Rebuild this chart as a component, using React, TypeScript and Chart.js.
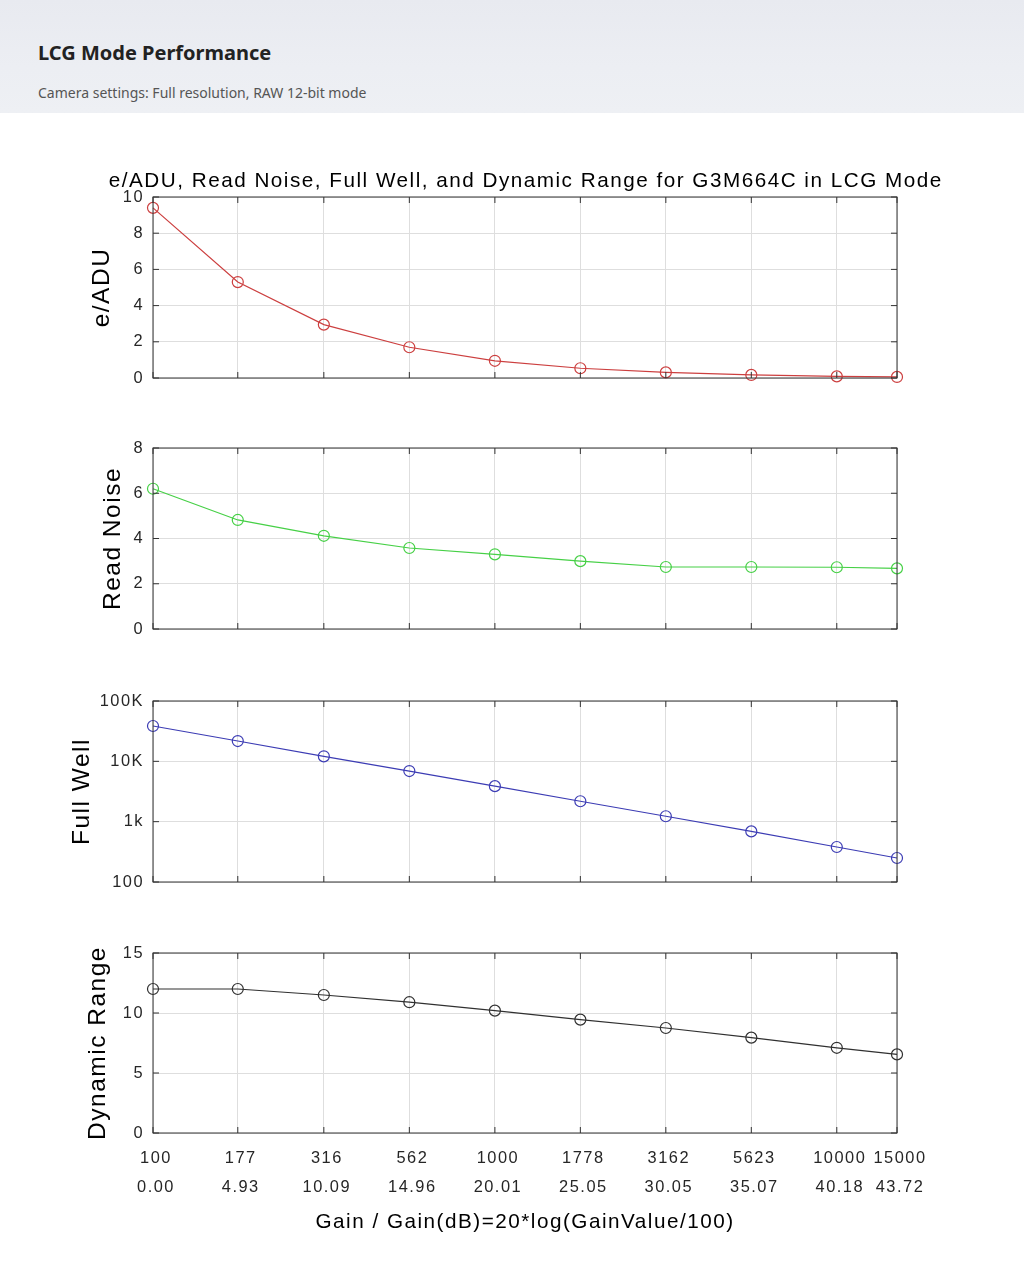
import { useEffect, useRef } from "react";
import { Chart, registerables } from "chart.js";

Chart.register(...registerables);

// gain settings on the x axis and their dB labels
const gains = [100, 177, 316, 562, 1000, 1778, 3162, 5623, 10000, 15000];
const gainDb = ["0.00", "4.93", "10.09", "14.96", "20.01", "25.05", "30.05", "35.07", "40.18", "43.72"];

// measured series
const eAdu = [9.4, 5.3, 2.95, 1.7, 0.95, 0.54, 0.31, 0.17, 0.09, 0.06];
const readNoise = [6.2, 4.82, 4.12, 3.58, 3.3, 3.0, 2.74, 2.74, 2.73, 2.68];
const fullWell = [38500, 21700, 12100, 6900, 3880, 2180, 1230, 690, 380, 250];
const dynamicRange = [12.0, 12.0, 11.5, 10.9, 10.2, 9.45, 8.75, 7.95, 7.1, 6.55];

// full well tick labels (log axis)
const fwTicks = [100, 1000, 10000, 100000];
const fwTickLabels = ["100", "1k", "10K", "100K"];

const mainTitle = "e/ADU, Read Noise, Full Well, and Dynamic Range for G3M664C in LCG Mode";
const xTitle = "Gain / Gain(dB)=20*log(GainValue/100)";

const AX_FONT = "'Liberation Sans', Arial, sans-serif";
const INK = "#262626";
const GRID = "#dedede";
const PLOT_LEFT = 153;
const PLOT_RIGHT = 897;
const TICK = 6;
const LETTER_SPACING = "1.5px";

// matlab-ish text is wide, so open the letters a bit
const spacingPlugin = {
  id: "letterSpacing",
  beforeLayout(chart: any) { chart.ctx.letterSpacing = LETTER_SPACING; },
  beforeDraw(chart: any) { chart.ctx.letterSpacing = LETTER_SPACING; },
};

// figure title, wider than the plot box so it is not squeezed to the chart area
const figTitlePlugin = {
  id: "figTitle",
  afterDraw(chart: any, _args: any, opts: any) {
    if (!opts.text) return;
    const { ctx, chartArea: a } = chart;
    ctx.save();
    ctx.letterSpacing = LETTER_SPACING;
    ctx.font = `20.7px ${AX_FONT}`;
    ctx.fillStyle = "#000";
    ctx.textAlign = "center";
    ctx.textBaseline = "middle";
    ctx.fillText(opts.text, (a.left + a.right) / 2 + 0.75, a.top - 16);
    ctx.restore();
  },
};

// box round the plot with inward ticks on all four sides
const boxPlugin = {
  id: "matlabBox",
  afterDraw(chart: any) {
    const { ctx, chartArea: a, scales } = chart;
    ctx.save();
    ctx.strokeStyle = "#333";
    ctx.lineWidth = 1;
    ctx.beginPath();
    scales.x.ticks.forEach((t: any) => {
      const px = scales.x.getPixelForValue(t.value);
      ctx.moveTo(px, a.bottom);
      ctx.lineTo(px, a.bottom - TICK);
      ctx.moveTo(px, a.top);
      ctx.lineTo(px, a.top + TICK);
    });
    scales.y.ticks.forEach((t: any) => {
      const py = scales.y.getPixelForValue(t.value);
      ctx.moveTo(a.left, py);
      ctx.lineTo(a.left + TICK, py);
      ctx.moveTo(a.right, py);
      ctx.lineTo(a.right - TICK, py);
    });
    ctx.stroke();
    ctx.strokeRect(a.left, a.top, a.right - a.left, a.bottom - a.top);
    ctx.restore();
  },
};

type PanelProps = {
  values: number[];
  color: string;
  top: number;
  height: number;
  padTop: number;
  padBottom: number;
  yTitle: string;
  yTitleX: number;
  yAxis: any;
  title?: string;
  showX?: boolean;
};

function Panel({ values, color, top, height, padTop, padBottom, yTitle, yTitleX, yAxis, title, showX }: PanelProps) {
  const canvasRef = useRef<HTMLCanvasElement | null>(null);

  useEffect(() => {
    const ctx = canvasRef.current?.getContext("2d");
    if (!ctx) return;
    const padLeft = yTitleX - 14.6;

    const chart = new Chart(ctx, {
      type: "line",
      data: {
        datasets: [{
          data: gains.map((g, i) => ({ x: g, y: values[i] })),
          borderColor: color,
          borderWidth: 1.2,
          pointStyle: "circle",
          pointRadius: 5.5,
          pointHoverRadius: 5.5,
          pointBorderColor: color,
          pointBackgroundColor: "rgba(0,0,0,0)",
          pointBorderWidth: 1.2,
          tension: 0,
          clip: false as any,
        }],
      },
      options: {
        responsive: false,
        animation: false,
        events: [],
        layout: { padding: { left: padLeft, right: 1024 - PLOT_RIGHT, top: padTop, bottom: padBottom } },
        plugins: {
          legend: { display: false },
          tooltip: { enabled: false },
          figTitle: { text: title || "" },
        },
        scales: {
          x: {
            type: "logarithmic",
            min: 100,
            max: 15000,
            afterBuildTicks: (s: any) => { s.ticks = gains.map((v) => ({ value: v })); },
            afterFit: (s: any) => { s.height = showX ? 1261 - 1133 : 0; },
            border: { display: false },
            grid: { color: GRID, drawTicks: false },
            ticks: {
              display: !!showX,
              autoSkip: false,
              maxRotation: 0,
              padding: 11,
              labelOffset: 3,
              color: INK,
              font: { family: AX_FONT, size: 16.4, lineHeight: 1.77 },
              callback: (_v: any, i: number) => [String(gains[i]), gainDb[i]],
            },
            title: {
              display: !!showX,
              text: xTitle,
              color: "#000",
              font: { family: AX_FONT, size: 20.7 },
              padding: { top: 0, bottom: 26.6 },
            },
          },
          y: {
            ...yAxis,
            afterFit: (s: any) => { s.width = PLOT_LEFT - padLeft; },
            border: { display: false },
            grid: { color: GRID, drawTicks: false },
            ticks: {
              ...(yAxis.ticks || {}),
              padding: 9,
              color: INK,
              font: { family: AX_FONT, size: 16.4 },
            },
            title: {
              display: true,
              text: yTitle,
              color: "#000",
              font: { family: AX_FONT, size: 24.5 },
              padding: 0,
            },
          },
        },
      } as any,
      plugins: [spacingPlugin, boxPlugin, figTitlePlugin],
    });

    return () => chart.destroy();
  }, []);

  return (
    <canvas
      ref={canvasRef}
      width={1024}
      height={height}
      style={{ position: "absolute", left: 0, top, width: 1024, height }}
    />
  );
}

export default function App() {
  return (
    <div style={{ position: "absolute", left: 0, top: 0, width: 1024, height: 1261, background: "#fff", overflow: "hidden" }}>
      <div style={{ position: "absolute", left: 0, top: 0, width: 1024, height: 113, background: "linear-gradient(180deg, #e8eaf0 0%, #eceef3 60%, #eef0f4 100%)" }}>
        <div style={{ position: "absolute", left: 38, top: 40.6, fontFamily: "'Noto Sans', sans-serif", fontSize: 20, lineHeight: "24px", fontWeight: 700, color: "#222", whiteSpace: "nowrap" }}>
          LCG Mode Performance
        </div>
        <div style={{ position: "absolute", left: 38, top: 84.4, fontFamily: "'Noto Sans', sans-serif", fontSize: 14, lineHeight: "18px", color: "#555", whiteSpace: "nowrap" }}>
          Camera settings: Full resolution, RAW 12-bit mode
        </div>
      </div>
      <Panel
        values={eAdu}
        color="#cc3f3f"
        top={140}
        height={260}
        padTop={57}
        padBottom={22}
        yTitle="e/ADU"
        yTitleX={102}
        title={mainTitle}
        yAxis={{ type: "linear", min: 0, max: 10, ticks: { stepSize: 2 } }}
      />
      <Panel
        values={readNoise}
        color="#46d046"
        top={400}
        height={251}
        padTop={48}
        padBottom={22}
        yTitle="Read Noise"
        yTitleX={113}
        yAxis={{ type: "linear", min: 0, max: 8, ticks: { stepSize: 2 } }}
      />
      <Panel
        values={fullWell}
        color="#3c3cb4"
        top={655}
        height={249}
        padTop={46}
        padBottom={22}
        yTitle="Full Well"
        yTitleX={82.5}
        yAxis={{
          type: "logarithmic",
          min: 100,
          max: 100000,
          afterBuildTicks: (s: any) => { s.ticks = fwTicks.map((v) => ({ value: v })); },
          ticks: { callback: (_v: any, i: number) => fwTickLabels[i] },
        }}
      />
      <Panel
        values={dynamicRange}
        color="#303030"
        top={905}
        height={356}
        padTop={48}
        padBottom={0}
        yTitle="Dynamic Range"
        yTitleX={98}
        showX
        yAxis={{ type: "linear", min: 0, max: 15, ticks: { stepSize: 5 } }}
      />
    </div>
  );
}
